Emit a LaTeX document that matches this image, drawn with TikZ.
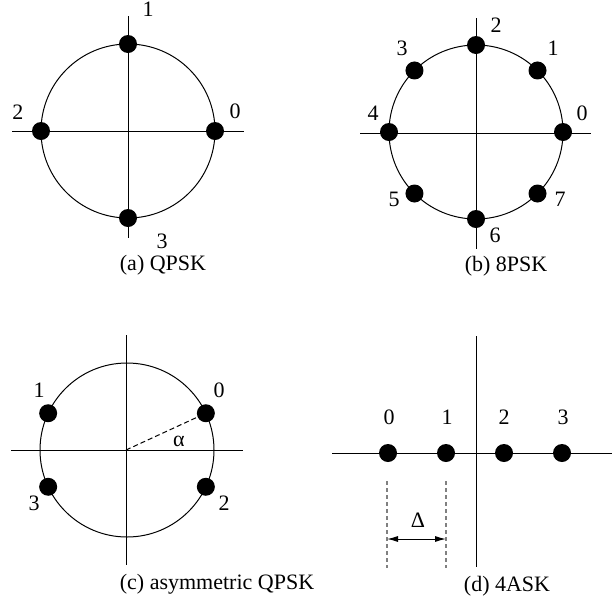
\documentclass[tikz,border=0pt]{standalone}
\usepackage{fontspec}
\setmainfont{Liberation Serif}
\usetikzlibrary{arrows.meta}
\tikzset{
  axis/.style={line width=1pt},
  ring/.style={line width=1pt},
  dot/.style={circle,fill=black,inner sep=0pt,minimum size=18pt},
  lbl/.style={inner sep=0pt,font=\fontsize{22}{26}\selectfont},
  captext/.style={inner sep=0pt,font=\fontsize{22}{26}\selectfont},
  guide/.style={line width=1.2pt,draw=gray,dash pattern=on 4pt off 3pt},
}
\begin{document}
\begin{tikzpicture}[x=1pt,y=-1pt]
\useasboundingbox (0,0) rectangle (613,606);
% (a) QPSK
\coordinate (ac) at (128,131);
\coordinate (aL) at (12,131); \coordinate (aR) at (244,131);
\coordinate (aT) at (128,16); \coordinate (aB) at (128,238);
\draw[axis] (aL) -- (aR);
\draw[axis] (aT) -- (aB);
\draw[ring] (ac) circle (87);
\foreach \i/\a in {0/0,1/90,2/180,3/270}
  \node[dot] (a\i) at ([shift={(\a:87pt)}]128pt,-131pt) {};
\node[lbl] (la1) at (148,9) {1};
\node[lbl] (la2) at (18,112) {2};
\node[lbl] (la0) at (235,111) {0};
\node[lbl] (la3) at (162,241) {3};
\node[captext] (capa) at (163,265) {(a) QPSK};
% (b) 8PSK
\coordinate (bc) at (476,132);
\coordinate (bL) at (360,133); \coordinate (bR) at (591,133);
\coordinate (bT) at (476,18); \coordinate (bB) at (476,249);
\draw[axis] (bL) -- (bR);
\draw[axis] (bT) -- (bB);
\draw[ring] (bc) circle (87);
\foreach \i in {0,...,7}
  \node[dot] (b\i) at ([shift={(\i*45:87pt)}]476pt,-132pt) {};
\node[lbl] (lb2) at (496,25) {2};
\node[lbl] (lb1) at (553,48) {1};
\node[lbl] (lb3) at (402,48) {3};
\node[lbl] (lb4) at (373,113) {4};
\node[lbl] (lb0) at (582,113) {0};
\node[lbl] (lb5) at (394,199) {5};
\node[lbl] (lb7) at (560,199) {7};
\node[lbl] (lb6) at (495,235) {6};
\node[captext] (capb) at (506,266) {(b) 8PSK};
% (c) asymmetric QPSK
\coordinate (cc) at (126,450);
\coordinate (cL) at (11,450); \coordinate (cR) at (243,450);
\coordinate (cT) at (126,335); \coordinate (cB) at (126,565);
\draw[axis] (cL) -- (cR);
\draw[axis] (cT) -- (cB);
\draw[ring] (127,450) circle (87);
\foreach \i/\a in {0/25,1/155,3/205,2/335}
  \node[dot] (c\i) at ([shift={(\a:87pt)}]127pt,-450pt) {};
\draw[line width=1pt,dash pattern=on 5pt off 3pt] (cc) -- (c0.center);
\node[lbl] (lc1) at (39,390) {1};
\node[lbl] (lc0) at (219,390) {0};
\node[lbl] (lc3) at (34,503) {3};
\node[lbl] (lc2) at (224,503) {2};
\node[lbl] (lalpha) at (179,441) {α};
\node[captext] (capc) at (217,584) {(c) asymmetric QPSK};
% (d) 4ASK
\coordinate (dL) at (332,453); \coordinate (dR) at (612,453);
\coordinate (dT) at (476,336); \coordinate (dB) at (476,567);
\draw[axis] (dL) -- (dR);
\draw[axis] (dT) -- (dB);
\foreach \i/\x in {0/388,1/446,2/504,3/562}
  \node[dot] (d\i) at (\x,453) {};
\foreach \i/\x in {0/389,1/447,2/504,3/563}
  \node[lbl] (ld\i) at (\x,417) {\i};
\coordinate (g0t) at (387,481); \coordinate (g0b) at (387,568);
\coordinate (g1t) at (446,481); \coordinate (g1b) at (446,568);
\draw[guide] (g0t) -- (g0b);
\draw[guide] (g1t) -- (g1b);
\coordinate (ar0) at (387,539); \coordinate (ar1) at (446,539);
\draw[line width=1pt,{Latex[length=11pt,width=6pt]}-{Latex[length=11pt,width=6pt]}] (ar0) -- (ar1);
\node[lbl] (ldelta) at (418,520) {Δ};
\node[captext] (capd) at (507,586) {(d) 4ASK};
\end{tikzpicture}
\end{document}
